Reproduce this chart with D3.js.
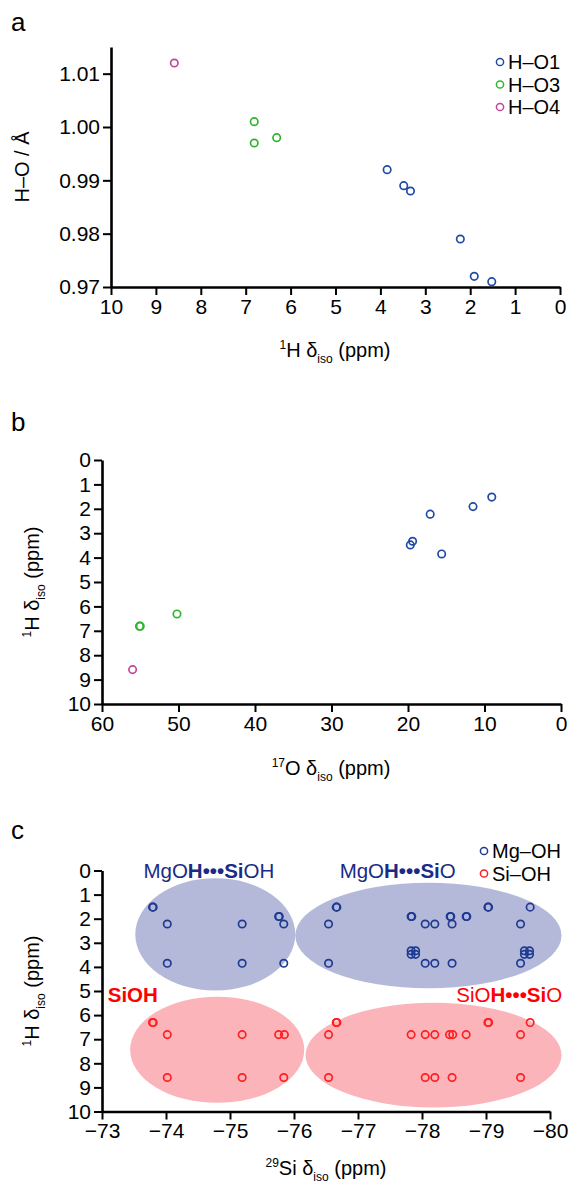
<!DOCTYPE html>
<html>
<head>
<meta charset="utf-8">
<script src="https://cdn.jsdelivr.net/npm/d3@7"></script>
<style>
  body { margin: 0; background: #fff; }
  svg { display: block; font-family: "Liberation Sans", Arial, sans-serif; }
</style>
</head>
<body>
<div id="chart"></div>
<script>
const WIDTH = 569, HEIGHT = 1185;

// ---- panel a / b : 1H shifts, H-O lengths and 17O shifts per oxygen site
const hO1 = [3.85, 3.48, 3.33, 2.22, 1.91, 1.52];
const lenO1 = [0.992, 0.989, 0.988, 0.979, 0.972, 0.971];
const oO1 = [15.6, 19.7, 19.4, 17.1, 11.5, 9.05];

const hO3 = [6.81, 6.81, 6.31];
const lenO3 = [1.001, 0.997, 0.998];
const oO3 = [55.1, 55.0, 50.2];

const hO4 = [8.59];
const lenO4 = [1.012];
const oO4 = [56.0];

const namesAB = ["H\u2013O1", "H\u2013O3", "H\u2013O4"];

// ---- panel c : 29Si vs 1H
const siMg = [-73.79, -73.80, -74.02, -74.02, -75.19, -75.19, -75.76, -75.77, -75.84, -75.84,
  -76.54, -76.54, -76.66, -76.67, -77.83, -77.84, -77.83, -77.83, -77.90, -77.90,
  -78.05, -78.20, -78.05, -78.20, -78.44, -78.45, -78.47, -78.47, -78.69, -78.70,
  -79.03, -79.04, -79.54, -79.54, -79.60, -79.60, -79.68, -79.68, -79.69];
const hMg = [1.52, 1.52, 2.22, 3.85, 2.22, 3.85, 1.91, 1.91, 2.22, 3.85,
  2.22, 3.85, 1.52, 1.52, 1.91, 1.91, 3.33, 3.48, 3.33, 3.48,
  2.22, 2.22, 3.85, 3.85, 1.91, 1.91, 2.22, 3.85, 1.91, 1.91,
  1.52, 1.52, 2.22, 3.85, 3.33, 3.48, 3.33, 3.48, 1.52];

const siSi = [-73.79, -73.80, -74.02, -74.02, -75.19, -75.19, -75.76, -75.85, -75.84,
  -76.54, -76.54, -76.66, -76.67, -77.83, -78.05, -78.20, -78.05, -78.20,
  -78.43, -78.48, -78.47, -78.69, -79.03, -79.04, -79.54, -79.54, -79.69];
const hSi = [6.31, 6.31, 6.81, 8.59, 6.81, 8.59, 6.81, 6.81, 8.59,
  6.81, 8.59, 6.31, 6.31, 6.81, 6.81, 6.81, 8.59, 8.59,
  6.81, 6.81, 8.59, 6.81, 6.31, 6.31, 6.81, 8.59, 6.31];

const namesC = ["Mg\u2013OH", "Si\u2013OH"];

// shaded regions (centre x, centre y, half-width, half-height, in data units)
const ellMg = [[-74.77, 2.65, 1.25, 2.33], [-78.10, 2.70, 2.08, 2.19]];
const ellSi = [[-74.80, 7.44, 1.36, 2.20], [-78.18, 7.66, 2.00, 2.17]];

// tick values
const ticksA_x = d3.range(10, -1, -1);
const ticksA_y = [0.97, 0.98, 0.99, 1.00, 1.01];
const ticksB_x = [60, 50, 40, 30, 20, 10, 0];
const ticksH = d3.range(0, 11);
const ticksC_x = [-73, -74, -75, -76, -77, -78, -79, -80];

const C_O1 = "#1f4aa6", C_O3 = "#2db52d", C_O4 = "#c2459f";
const C_MG = "#1f3a93", C_SI = "#ff1f1f";

const svg = d3.select("#chart").append("svg")
  .attr("width", WIDTH).attr("height", HEIGHT);

function rich(sel, parts, size) {
  let shift = 0;
  parts.forEach(([t, k]) => {
    const target = k === "sup" ? -size * 0.4 : k === "sub" ? size * 0.28 : 0;
    const small = k === "sup" || k === "sub";
    sel.append("tspan")
      .attr("dy", target - shift)
      .attr("font-size", small ? size * 0.6 : size)
      .attr("font-weight", k === "b" ? "bold" : null)
      .text(t);
    shift = target;
  });
  return sel;
}

function axes(x, y, xt, yt, xf, yf) {
  const g = svg.append("g");
  const ax = g.append("g")
    .attr("transform", `translate(0,${d3.max(y.range())})`)
    .call(d3.axisBottom(x).tickValues(xt).tickFormat(xf).tickSize(8).tickPadding(4).tickSizeOuter(0));
  const ay = g.append("g")
    .attr("transform", `translate(${x.range()[0]},0)`)
    .call(d3.axisLeft(y).tickValues(yt).tickFormat(yf).tickSize(8).tickPadding(3).tickSizeOuter(0));
  [ax, ay].forEach(a => {
    a.attr("font-family", null).attr("font-size", 21);
    a.select(".domain").attr("stroke-width", 2.6);
    a.selectAll(".tick line").attr("stroke-width", 2);
    a.selectAll(".tick text").attr("fill", "#000");
  });
  return g;
}

function dots(x, y, xs, ys, color) {
  svg.append("g").selectAll("circle")
    .data(xs.map((v, i) => [v, ys[i]]))
    .join("circle")
    .attr("cx", d => x(d[0])).attr("cy", d => y(d[1]))
    .attr("r", 3.7).attr("fill", "none")
    .attr("stroke", color).attr("stroke-width", 1.7);
}

function legend(xPos, yPos, names, colors, gap) {
  const g = svg.append("g").attr("font-size", 20);
  names.forEach((n, i) => {
    g.append("circle").attr("cx", xPos).attr("cy", yPos + i * gap).attr("r", 3.6)
      .attr("fill", "none").attr("stroke", colors[i]).attr("stroke-width", 1.5);
    g.append("text").attr("x", xPos + 8).attr("y", yPos + i * gap).attr("dy", "0.36em").text(n);
  });
}

function panelLabel(t, px, py) {
  svg.append("text").attr("x", px).attr("y", py).attr("font-size", 26).text(t);
}

const hTitle = [["1", "sup"], ["H \u03b4", ""], ["iso", "sub"], [" (ppm)", ""]];

// ================= panel a
{
  const x = d3.scaleLinear().domain([10, 0]).range([111, 560]);
  const y = d3.scaleLinear().domain([0.97, 1.015]).range([287, 47]);
  axes(x, y, ticksA_x, ticksA_y, d3.format("d"), d3.format(".2f"));
  dots(x, y, hO1, lenO1, C_O1);
  dots(x, y, hO3, lenO3, C_O3);
  dots(x, y, hO4, lenO4, C_O4);
  legend(500, 62, namesAB, [C_O1, C_O3, C_O4], 22.5);
  rich(svg.append("text").attr("x", 335).attr("y", 357).attr("text-anchor", "middle"), hTitle, 20);
  svg.append("text").attr("transform", `translate(29,167) rotate(-90)`)
    .attr("text-anchor", "middle").attr("font-size", 20).text("H\u2013O / \u00c5");
  panelLabel("a", 11, 31);
}

// ================= panel b
{
  const x = d3.scaleLinear().domain([60, 0]).range([102, 561]);
  const y = d3.scaleLinear().domain([0, 10]).range([460, 704]);
  axes(x, y, ticksB_x, ticksH, d3.format("d"), d3.format("d"));
  dots(x, y, oO1, hO1, C_O1);
  dots(x, y, oO3, hO3, C_O3);
  dots(x, y, oO4, hO4, C_O4);
  rich(svg.append("text").attr("x", 331).attr("y", 775).attr("text-anchor", "middle"),
    [["17", "sup"], ["O \u03b4", ""], ["iso", "sub"], [" (ppm)", ""]], 20);
  rich(svg.append("text").attr("transform", `translate(39,582) rotate(-90)`).attr("text-anchor", "middle"), hTitle, 20);
  panelLabel("b", 11, 431);
}

// ================= panel c
{
  const x = d3.scaleLinear().domain([-73, -80]).range([102, 550]);
  const y = d3.scaleLinear().domain([0, 10]).range([870.5, 1111.5]);
  const kx = Math.abs(x(1) - x(0)), ky = Math.abs(y(1) - y(0));
  const ell = (list, fill) => svg.append("g").selectAll("ellipse").data(list).join("ellipse")
    .attr("cx", d => x(d[0])).attr("cy", d => y(d[1]))
    .attr("rx", d => d[2] * kx).attr("ry", d => d[3] * ky)
    .attr("fill", fill).attr("fill-opacity", 0.36);
  ell(ellMg, "#2e3d96");
  ell(ellSi, "#f2303f");
  axes(x, y, ticksC_x, ticksH, d3.format("d"), d3.format("d"));
  dots(x, y, siMg, hMg, C_MG);
  dots(x, y, siSi, hSi, C_SI);
  legend(484, 851, namesC, [C_MG, C_SI], 22.5);

  const note = (parts, vx, vy, anchor, color) =>
    rich(svg.append("text").attr("x", x(vx)).attr("y", y(vy))
      .attr("text-anchor", anchor).attr("fill", color), parts, 20.5);
  note([["MgO", ""], ["H\u2022\u2022\u2022Si", "b"], ["OH", ""]], -74.67, 0.3, "middle", "#1a2b85");
  note([["MgO", ""], ["H\u2022\u2022\u2022Si", "b"], ["O", ""]], -77.62, 0.3, "middle", "#1a2b85");
  note([["SiOH", "b"]], -73.09, 5.45, "start", "#ff0000");
  note([["SiO", ""], ["H\u2022\u2022\u2022Si", "b"], ["O", ""]], -80.19, 5.45, "end", "#ff0000");

  rich(svg.append("text").attr("x", 326).attr("y", 1175).attr("text-anchor", "middle"),
    [["29", "sup"], ["Si \u03b4", ""], ["iso", "sub"], [" (ppm)", ""]], 20);
  rich(svg.append("text").attr("transform", `translate(39,991) rotate(-90)`).attr("text-anchor", "middle"), hTitle, 20);
  panelLabel("c", 11, 839);
}
</script>
</body>
</html>
